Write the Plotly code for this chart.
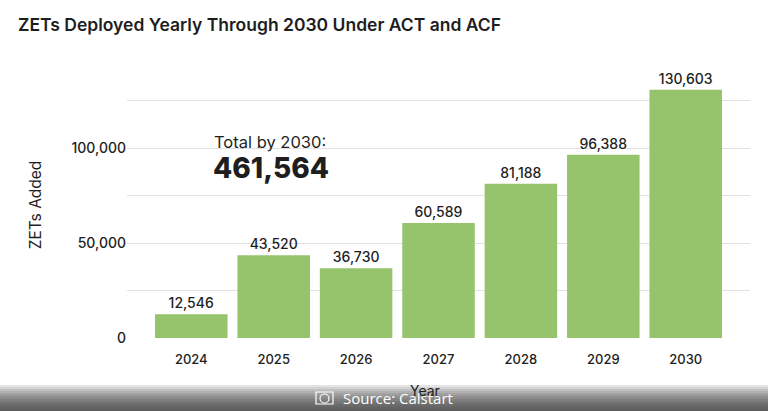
import plotly.graph_objects as go

years = ["2024", "2025", "2026", "2027", "2028", "2029", "2030"]
zets_added = [12546, 43520, 36730, 60589, 81188, 96388, 130603]
total_2030 = 461564
y_tickvals = [0, 25000, 50000, 75000, 100000, 125000]
y_ticktext = ["0", "", "50,000", "", "100,000", ""]

FONT = "Inter"
W, H = 768, 411
L, R, T, B = 127, 18, 72, 73
plot_h = H - T - B


def py(ref_y):
    # reference pixel row -> paper y
    return (H - B - ref_y) / plot_h


def px(ref_x):
    return (ref_x - L) / (W - L - R)


fig = go.Figure()
fig.add_trace(go.Bar(
    x=years, y=zets_added,
    marker=dict(color="#95c46c", line=dict(width=0)),
    text=[f"{v:,}" for v in zets_added],
    textposition="outside",
    textfont=dict(family=FONT, size=14, color="#1e1e1e", weight=500),
    cliponaxis=False,
    width=0.88,
))

# grey caption bar at the bottom of the screenshot (fake vertical gradient)
strip_cols = ["#e4e4e4", "#d2d2d2", "#c0c0c0", "#b0b0b0", "#a2a2a2", "#969696",
              "#8a8a8a", "#808080", "#777777", "#6f6f6f", "#686868", "#626262", "#5c5c5c"]
shapes = []
top = 385
for i, c in enumerate(strip_cols):
    y0 = top + i * 2
    y1 = y0 + 2 if i < len(strip_cols) - 1 else H + 2
    shapes.append(dict(type="rect", xref="paper", yref="paper",
                       x0=px(-2), x1=px(W + 2), y0=py(y1), y1=py(y0),
                       fillcolor=c, line=dict(width=0), layer="above"))
# little camera icon
shapes.append(dict(type="rect", xref="paper", yref="paper",
                   x0=px(316), x1=px(333), y0=py(404), y1=py(392),
                   line=dict(color="white", width=1.2), fillcolor="rgba(0,0,0,0)", layer="above"))
shapes.append(dict(type="circle", xref="paper", yref="paper",
                   x0=px(320), x1=px(329), y0=py(403), y1=py(394),
                   line=dict(color="white", width=1.2), fillcolor="rgba(0,0,0,0)", layer="above"))

annotations = [
    dict(text="Total by 2030:", xref="paper", yref="paper", x=px(212), y=py(142),
         xanchor="left", yanchor="middle", showarrow=False,
         font=dict(family=FONT, size=16.5, color="#1e1e1e")),
    dict(text=f"{total_2030:,}", xref="paper", yref="paper", x=px(211), y=py(168),
         xanchor="left", yanchor="middle", showarrow=False,
         font=dict(family=FONT, size=28, color="#1e1e1e", weight=800)),
    dict(text="Year", xref="paper", yref="paper", x=px(425), y=py(390),
         xanchor="center", yanchor="middle", showarrow=False,
         font=dict(family=FONT, size=14, color="#1e1e1e")),
    dict(text="Source: Calstart", xref="paper", yref="paper", x=px(341), y=py(398),
         xanchor="left", yanchor="middle", showarrow=False,
         font=dict(family="Open Sans", size=15, color="white")),
]

fig.update_layout(
    width=W, height=H,
    margin=dict(l=L, r=R, t=T, b=B),
    paper_bgcolor="white", plot_bgcolor="white",
    showlegend=False,
    title=dict(text="ZETs Deployed Yearly Through 2030 Under ACT and ACF",
               x=18 / W, xanchor="left", y=1 - 25 / H, yanchor="middle",
               font=dict(family=FONT, size=17.5, color="#1e1e1e", weight=600)),
    xaxis=dict(type="category", range=[-0.78, 6.78], showgrid=False,
               showline=False, zeroline=False, ticks="",
               ticklabelstandoff=12,
               tickfont=dict(family=FONT, size=13, color="#1e1e1e", weight=500)),
    yaxis=dict(range=[0, 140000], tickmode="array", tickvals=y_tickvals,
               ticktext=y_ticktext, showgrid=True, gridcolor="#e2e2e2",
               gridwidth=1, zeroline=False, showline=False, ticks="",
               tickfont=dict(family=FONT, size=14, color="#1e1e1e", weight=500),
               title=dict(text="ZETs Added", standoff=26,
                          font=dict(family=FONT, size=15.5, color="#1e1e1e"))),
    shapes=shapes,
    annotations=annotations,
)

# page margin off so the figure fills the window
fig.write_html("out.html", config={"displayModeBar": False},
               post_script="document.body.style.margin='0';")
